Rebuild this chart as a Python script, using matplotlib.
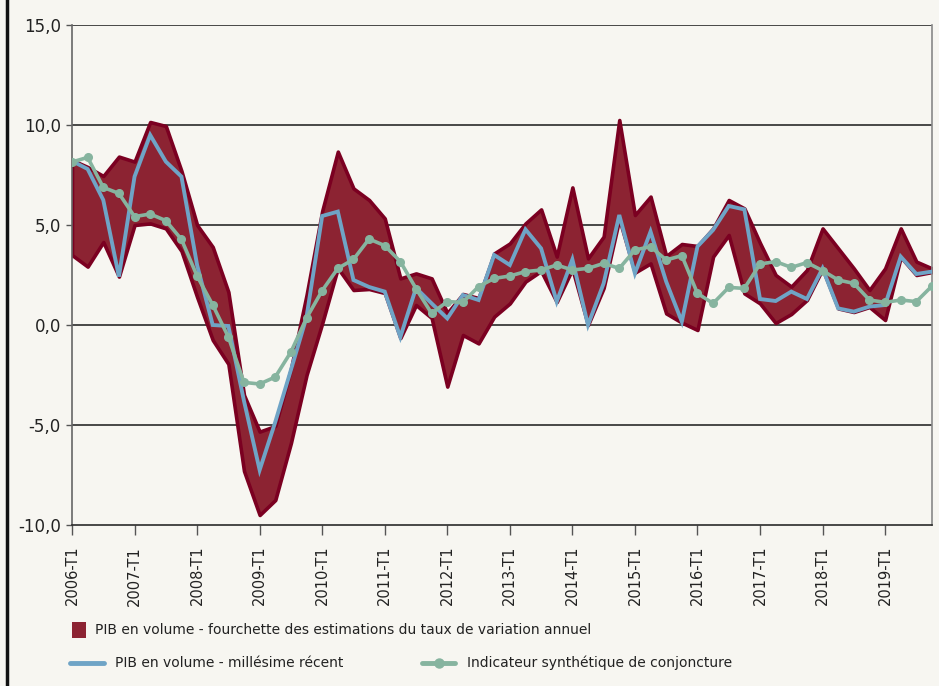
import matplotlib
matplotlib.use("Agg")
import matplotlib.pyplot as plt
from matplotlib import font_manager
from matplotlib.patches import Rectangle
from matplotlib.lines import Line2D
import numpy as np

# ---------------- data ----------------
years = list(range(2006, 2020))
quarters = [f"{y}-T{q}" for y in years for q in range(1, 5)]

band_upper = [8.25, 7.9, 7.45, 8.42, 8.17, 10.15, 9.95, 7.7,
              5.0, 3.9, 1.65, -3.5, -5.33, -5.05, -2.2, 1.5,
              5.7, 8.67, 6.83, 6.25, 5.33, 2.33, 2.58, 2.33,
              0.6, 1.55, 1.35, 3.58, 4.08, 5.08, 5.78, 3.42,
              6.88, 3.33, 4.42, 10.25, 5.5, 6.42, 3.45, 4.05,
              3.95, 4.83, 6.25, 5.83, 4.1, 2.5, 1.92, 2.75,
              4.83, 3.83, 2.83, 1.75, 2.83, 4.83, 3.17, 2.83]
band_lower = [3.5, 2.92, 4.15, 2.42, 5.0, 5.08, 4.83, 3.7,
              1.4, -0.75, -1.95, -7.3, -9.5, -8.75, -5.9, -2.5,
              0.08, 2.85, 1.75, 1.8, 1.6, -0.65, 1.0, 0.35,
              -3.08, -0.5, -0.92, 0.42, 1.08, 2.17, 2.7, 1.15,
              2.8, 0.0, 1.85, 5.3, 2.62, 3.08, 0.58, 0.12,
              -0.25, 3.42, 4.5, 1.58, 1.08, 0.1, 0.55, 1.25,
              2.8, 0.83, 0.65, 0.9, 0.25, 3.4, 2.5, 2.65]
pib_recent = [8.2, 7.8, 6.25, 2.42, 7.42, 9.5, 8.17, 7.42,
              3.0, 0.0, -0.05, -3.8, -7.25, -4.85, -2.25, 0.4,
              5.45, 5.67, 2.25, 1.9, 1.67, -0.6, 1.85, 1.08,
              0.33, 1.5, 1.25, 3.5, 3.0, 4.78, 3.83, 1.17,
              3.28, 0.0, 2.08, 5.5, 2.58, 4.67, 2.17, 0.17,
              3.92, 4.75, 5.95, 5.78, 1.3, 1.2, 1.67, 1.3,
              2.83, 0.83, 0.67, 0.92, 1.0, 3.42, 2.55, 2.67]
isc = [8.15, 8.38, 6.88, 6.58, 5.42, 5.55, 5.22, 4.28,
       2.45, 1.0, -0.6, -2.87, -2.95, -2.6, -1.35, 0.35,
       1.72, 2.83, 3.28, 4.3, 3.97, 3.17, 1.82, 0.58,
       1.17, 1.13, 1.92, 2.33, 2.45, 2.67, 2.75, 3.0,
       2.75, 2.83, 3.08, 2.83, 3.75, 3.92, 3.25, 3.47,
       1.58, 1.08, 1.88, 1.83, 3.05, 3.17, 2.88, 3.12,
       2.72, 2.25, 2.08, 1.25, 1.13, 1.25, 1.17, 1.95]
y_ticks = [-10, -5, 0, 5, 10, 15]
y_labels = ["-10,0", "-5,0", "0,0", "5,0", "10,0", "15,0"]

label_band = "PIB en volume - fourchette des estimations du taux de variation annuel"
label_recent = "PIB en volume - millésime récent"
label_isc = "Indicateur synthétique de conjoncture"

# ---------------- style ----------------
names = {f.name for f in font_manager.fontManager.ttflist}
if "Liberation Sans Narrow" in names:
    FONT = ["Liberation Sans Narrow", "DejaVu Sans"]
    fs_leg, fs_x, fs_y = 12.5, 13.5, 14
else:
    FONT = ["DejaVu Sans"]
    fs_leg, fs_x, fs_y = 10, 10.5, 12

BG = "#f7f6f1"
BAND_FILL = "#8c2332"
BAND_EDGE = "#7b0021"
BLUE = "#6fa4c6"
GREEN = "#86b49f"
TXT = "#222222"

W, H = 939, 686
fig = plt.figure(figsize=(W / 100, H / 100), dpi=100, facecolor=BG)

def fx(px):
    return px / W

def fy(py):
    return 1 - py / H

ax = fig.add_axes([fx(72), fy(525), fx(932) - fx(72), fy(25) - fy(525)])
ax.set_facecolor(BG)

x = np.arange(len(quarters))
ax.fill_between(x, band_lower, band_upper, facecolor=BAND_FILL,
                edgecolor=BAND_EDGE, linewidth=2.6, zorder=2)
ax.plot(x, pib_recent, color=BLUE, linewidth=2.8, zorder=3,
        solid_joinstyle="miter")
ax.plot(x, isc, color=GREEN, linewidth=2.6, marker="o", markersize=5.5,
        zorder=4)

ax.set_xlim(0, len(quarters) - 1)
ax.set_ylim(-10, 15)

for v in [-5, 0, 5, 10, 15]:
    ax.axhline(v, color="#2a2a2a", linewidth=1.2, zorder=1)

ax.set_yticks(y_ticks)
ax.set_yticklabels(y_labels, family=FONT, fontsize=fs_y, color=TXT)
tick_pos = x[::4]
ax.set_xticks(tick_pos)
ax.set_xticklabels([quarters[i] for i in tick_pos], rotation=90,
                   family=FONT, fontsize=fs_x, color=TXT, va="top")
ax.tick_params(axis="x", direction="out", length=7, width=1.0,
               color="#555555", pad=8)
ax.tick_params(axis="y", direction="out", length=4, width=1.0,
               color="#555555", pad=4)

ax.spines["top"].set_visible(False)
ax.spines["left"].set_color("#666666")
ax.spines["right"].set_color("#888888")
ax.spines["bottom"].set_color("#2a2a2a")
for s in ax.spines.values():
    s.set_linewidth(1.2)

# ---------------- legend (manual) ----------------
fig.add_artist(Rectangle((fx(72), fy(638)), fx(86) - fx(72), fy(622) - fy(638),
                         transform=fig.transFigure, facecolor=BAND_FILL,
                         edgecolor="none"))
fig.text(fx(95), fy(630), label_band, family=FONT, fontsize=fs_leg,
         color=TXT, va="center", ha="left")

fig.add_artist(Line2D([fx(70), fx(104)], [fy(663), fy(663)],
                      transform=fig.transFigure, color=BLUE, linewidth=3.5,
                      solid_capstyle="round"))
fig.text(fx(115), fy(663), label_recent, family=FONT, fontsize=fs_leg,
         color=TXT, va="center", ha="left")

fig.add_artist(Line2D([fx(422), fx(455)], [fy(663), fy(663)],
                      transform=fig.transFigure, color=GREEN, linewidth=3.5,
                      solid_capstyle="round"))
fig.add_artist(Line2D([fx(438.5)], [fy(663)], transform=fig.transFigure,
                      color=GREEN, marker="o", markersize=6.5, linestyle="none"))
fig.text(fx(467), fy(663), label_isc, family=FONT, fontsize=fs_leg,
         color=TXT, va="center", ha="left")

# left frame line
fig.add_artist(Line2D([fx(7), fx(7)], [0, 1], transform=fig.transFigure,
                      color="#111111", linewidth=2.5))

fig.savefig("out.png", dpi=100, facecolor=BG)
